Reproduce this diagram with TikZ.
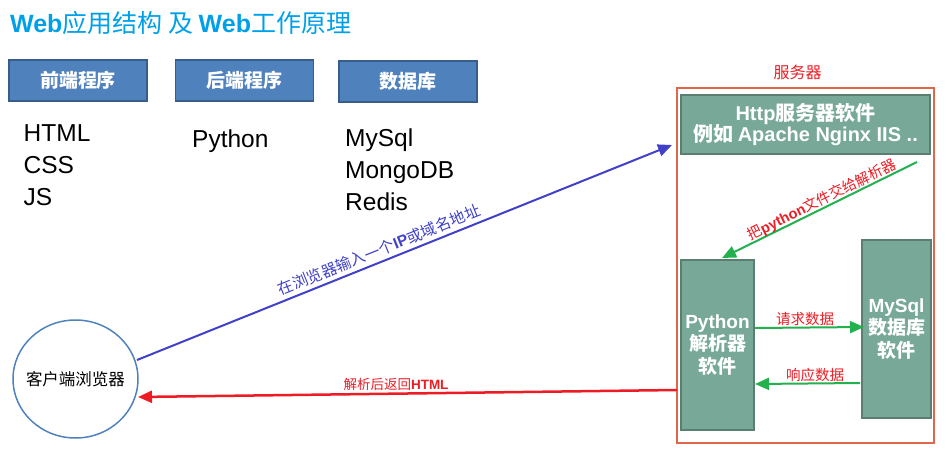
\documentclass[tikz,border=0pt]{standalone}
\usepackage{fontspec}
\setmainfont{Liberation Sans}
\newfontfamily\cjk{Noto Sans CJK SC}
\usetikzlibrary{arrows.meta,shapes.geometric}
\definecolor{titleblue}{HTML}{00A0E9}
\definecolor{hdrfill}{HTML}{4F81BD}
\definecolor{hdrborder}{HTML}{385D8A}
\definecolor{gfill}{HTML}{77A898}
\definecolor{gborder}{HTML}{5A7F71}
\definecolor{srvred}{HTML}{E0664A}
\definecolor{arrblue}{HTML}{4040C8}
\definecolor{arrred}{HTML}{ED1C24}
\definecolor{arrgreen}{HTML}{22B14C}
\definecolor{circblue}{HTML}{4F81BD}
\begin{document}
\begin{tikzpicture}[x=1pt,y=-1pt,
  hdr/.style={draw=hdrborder, fill=hdrfill, line width=1.5pt, minimum width=138pt, minimum height=41pt, text=white, font=\cjk\bfseries\fontsize{19}{22}\selectfont},
  gbox/.style={draw=gborder, fill=gfill, line width=1.5pt, text=white, align=center, inner sep=0pt, font=\bfseries\fontsize{19}{22.5}\selectfont},
  listtxt/.style={anchor=base west, font=\fontsize{24.5}{28}\selectfont, inner sep=0pt},
  lbl/.style={inner sep=0pt, font=\cjk\fontsize{14}{16}\selectfont},
  tipA/.style={-{Triangle[length=14pt,width=12pt]}},
]
\useasboundingbox (0,0) rectangle (946,463);

% title
\node[anchor=west, inner sep=0pt, text=titleblue, font=\fontsize{25}{28}\selectfont] (title) at (10,23)
  {\textbf{Web}{\cjk 应用结构 及 }\textbf{Web}{\cjk 工作原理}};

% headers
\node[hdr] (fe) at (78,80.5) {前端程序};
\node[hdr] (be) at (244.5,80.5) {后端程序};
\node[hdr] (db) at (408,81.5) {数据库};

% lists
\node[listtxt] (l1) at (23.5,141.7) {HTML};
\node[listtxt] (l2) at (23.5,173.3) {CSS};
\node[listtxt] (l3) at (23.5,205) {JS};
\node[listtxt] (l4) at (192,147) {Python};
\node[listtxt] (l5) at (345,146.5) {MySql};
\node[listtxt] (l6) at (345,178.2) {MongoDB};
\node[listtxt] (l7) at (345,210) {Redis};

% server
\node[draw=srvred, line width=1.5pt, minimum width=257pt, minimum height=355pt, inner sep=0pt] (server) at (805.5,265.5) {};
\node[lbl, text=arrred, font=\cjk\fontsize{16}{18}\selectfont] (srvlbl) at (797.5,72) {服务器};

\node[gbox, font=\bfseries\fontsize{20}{21.5}\selectfont, minimum width=249pt, minimum height=59pt] (http) at (805.5,124.5)
  {Http{\cjk 服务器软件}\\{\cjk 例如 }Apache Nginx IIS ..};
\node[gbox, minimum width=73pt, minimum height=170pt] (py) at (717.5,345)
  {Python\\{\cjk 解析器}\\{\cjk 软件}};
\node[gbox, minimum width=69pt, minimum height=178pt] (my) at (896.5,329)
  {MySql\\{\cjk 数据库}\\{\cjk 软件}};

% client
\node[ellipse, draw=circblue, line width=1.5pt, minimum width=125pt, minimum height=118pt, inner sep=0pt] (client) at (75.5,379) {};
\node[inner sep=0pt, font=\cjk\fontsize{16.5}{18}\selectfont] (clienttxt) at (client.center) {客户端浏览器};

% connector endpoints
\coordinate (bs) at (137,360);
\coordinate (be2) at (672,145);
\coordinate (rs) at (677,390);
\coordinate (re) at (138,397);
\coordinate (gs) at (917,162);
\coordinate (ge) at (722,258);
\coordinate (q1) at (755,328);
\coordinate (q2) at (864,327);
\coordinate (a1) at (860,383);
\coordinate (a2) at (755,384);

\draw[arrblue, line width=2pt, tipA] (bs) -- (be2);
\draw[arrred, line width=2.5pt, tipA] (rs) -- (re);
\draw[arrgreen, line width=2pt, tipA] (gs) -- (ge);
\draw[arrgreen, line width=2pt, tipA] (q1) -- (q2);
\draw[arrgreen, line width=2pt, tipA] (a1) -- (a2);

% labels
\node[lbl, text=arrblue, rotate=21.9, font=\cjk\fontsize{15.5}{17}\selectfont] (bl) at (379,250)
  {在浏览器输入一个{\fontspec{Liberation Sans}\bfseries IP}或域名地址};
\node[lbl, text=arrred, font=\cjk\fontsize{13.5}{15}\selectfont] (rl) at (396,384)
  {解析后返回{\fontspec{Liberation Sans}\bfseries HTML}};
\node[lbl, text=arrred, rotate=26.2, font=\cjk\fontsize{14.5}{16}\selectfont] (gl) at (822,200)
  {把{\fontspec{Liberation Sans}\bfseries python}文件交给解析器};
\node[lbl, text=arrred, font=\cjk\fontsize{14.5}{16}\selectfont] (ql) at (805,319) {请求数据};
\node[lbl, text=arrred, font=\cjk\fontsize{14.5}{16}\selectfont] (al) at (815,375) {响应数据};
\end{tikzpicture}
\end{document}
